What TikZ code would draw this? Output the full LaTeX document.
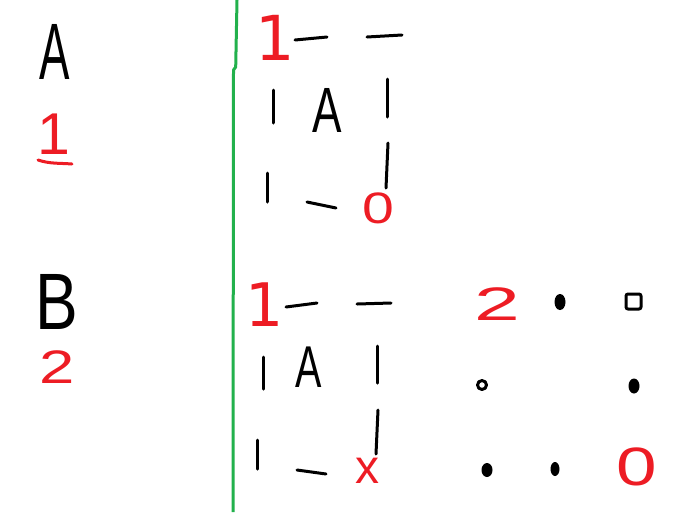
\documentclass[tikz,border=0pt]{standalone}
\usepackage{fontspec}
\setmainfont{Liberation Sans}
\newfontfamily\footone{DejaVu Sans}
\definecolor{pred}{RGB}{237,28,36}
\definecolor{pgreen}{RGB}{34,177,76}
\tikzset{
  pen/.style={line width=3pt, line cap=round, line join=round},
  redpen/.style={pen, draw=pred},
  blk/.style={inner sep=0pt, outer sep=0pt, text=black, transform shape},
  rd/.style={inner sep=0pt, outer sep=0pt, text=pred, transform shape},
}
\begin{document}
\begin{tikzpicture}[x=1pt,y=-1pt]
\useasboundingbox (0,0) rectangle (687,512);
% separator
\draw[pen, draw=pgreen, line cap=butt] (237,0) -- (235.7,67) -- (233.5,70) -- (233,512);
% left column
\node[blk, xscale=0.57] (la) at (55,52) {\fontsize{80}{80}\selectfont A};
\node[rd] (l1) at (54,134) {\fontsize{59}{59}\selectfont 1};
\coordinate (ul1) at (38,160);
\coordinate (ul2) at (72,164);
\draw[redpen] (ul1) .. controls (50,164) and (60,163) .. (ul2);
\node[blk, xscale=0.8] (lb) at (57,302) {\fontsize{80}{80}\selectfont B};
\node[rd, xscale=1.35] (l2) at (57,367) {\fontsize{47}{47}\selectfont 2};
% top box
\node[rd] (t1) at (275,38) {\footone\fontsize{62}{62}\selectfont 1};
\draw[pen] (295,40) -- (327,37);
\draw[pen] (367,37) -- (402,35);
\draw[pen] (273,90) -- (273,123);
\draw[pen] (387,79) -- (387,117);
\draw[pen] (267,173) -- (267,202);
\draw[pen] (388,143) -- (386,188);
\draw[pen] (307,202) -- (336,208);
\node[blk, xscale=0.69] (ta) at (327,110) {\fontsize{64}{64}\selectfont A};
\node[rd, xscale=1.3] (t0) at (378,208) {\fontsize{44}{44}\selectfont 0};
% bottom box
\node[rd] (b1) at (265,305) {\footone\fontsize{60}{60}\selectfont 1};
\draw[pen] (286,307) -- (317,303);
\draw[pen] (357,304) -- (391,303);
\draw[pen] (263,357) -- (263,389);
\draw[pen] (377,346) -- (377,383);
\draw[pen] (257,440) -- (257,469);
\draw[pen] (378,410) -- (376,454);
\draw[pen] (297,470) -- (326,474);
\node[blk, xscale=0.67] (ba) at (309,367) {\fontsize{59}{59}\selectfont A};
\node[rd] (bx) at (367,471) {\fontsize{48}{48}\selectfont x};
% dot grid
\node[rd, xscale=1.75] (g2) at (497,304) {\fontsize{47}{47}\selectfont 2};
\fill (560,302) ellipse [x radius=5.5, y radius=8];
\draw[pen, rounded corners=2pt] (626,294) rectangle (641,309);
\draw[pen] (482,385) circle [radius=4.5];
\fill (634,386) ellipse [x radius=5.5, y radius=7.5];
\fill (487,470) ellipse [x radius=5.5, y radius=7];
\fill (555,469) ellipse [x radius=4.5, y radius=7];
\node[rd, xscale=1.35] (g0) at (637,467) {\fontsize{54}{54}\selectfont 0};
\end{tikzpicture}
\end{document}
